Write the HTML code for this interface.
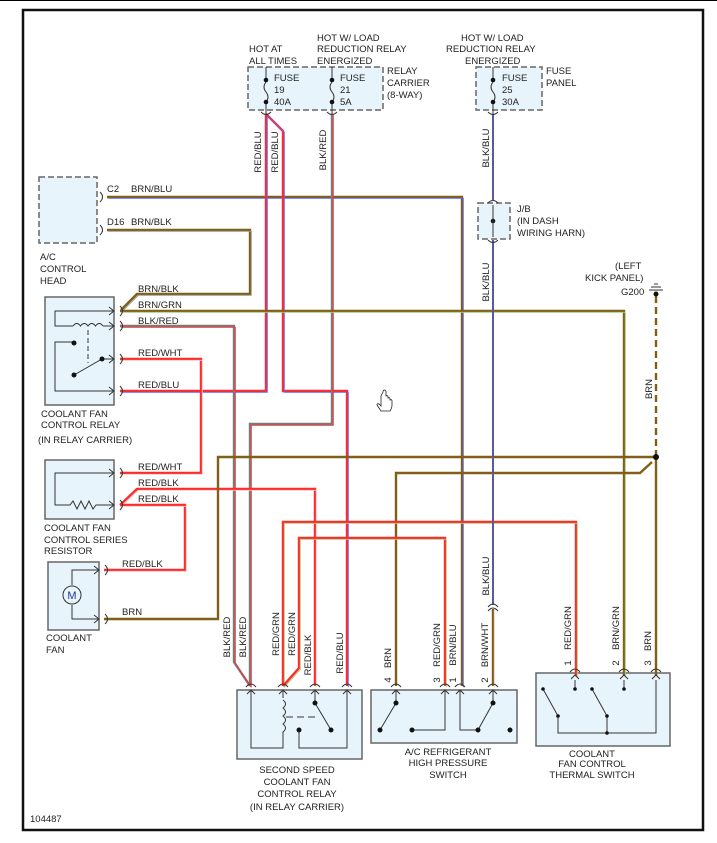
<!DOCTYPE html>
<html><head><meta charset="utf-8"><style>
html,body{margin:0;padding:0;background:#fff;}
svg{display:block;}
text{font-family:"Liberation Sans",sans-serif;font-size:9.5px;fill:#222;}
</style></head><body>
<svg id="s" width="717" height="843" viewBox="0 0 717 843" xmlns="http://www.w3.org/2000/svg">
<rect x="0" y="0" width="717" height="843" fill="#fff"/>
<line x1="0" y1="0.5" x2="717" y2="0.5" stroke="#000" stroke-width="1"/>
<rect x="23" y="10" width="680" height="820" fill="none" stroke="#111" stroke-width="2.5"/>

<g fill="#e8f4fc" stroke="#666" stroke-width="1.5">
<rect x="248" y="67" width="135" height="43" stroke-dasharray="6,3"/>
<rect x="476" y="67" width="66" height="43" stroke-dasharray="6,3"/>
<rect x="39" y="177" width="58" height="66" stroke-dasharray="6,3"/>
<rect x="478" y="203" width="32" height="36" stroke-dasharray="6,3"/>
<rect x="45" y="297" width="69" height="108"/>
<rect x="45" y="460" width="69" height="59"/>
<rect x="48" y="562" width="51" height="68"/>
<rect x="237" y="690" width="125" height="69"/>
<rect x="371" y="690" width="146" height="53"/>
<rect x="536" y="673" width="134" height="73"/>
</g>

<g id="wires"></g>

<g stroke="#333" stroke-width="1" fill="none">
<path d="M266 67 V78 M266 82 q-4 5 0 10 q4 5 0 10 M266 104 V114"/>
<path d="M332 67 V78 M332 82 q-4 5 0 10 q4 5 0 10 M332 104 V114"/>
<path d="M493 67 V78 M493 82 q-4 5 0 10 q4 5 0 10 M493 104 V114"/>
</g>
<g fill="#111">
<circle cx="266" cy="80" r="2.3"/><circle cx="266" cy="102" r="2.3"/>
<circle cx="332" cy="80" r="2.3"/><circle cx="332" cy="102" r="2.3"/>
<circle cx="493" cy="80" r="2.3"/><circle cx="493" cy="102" r="2.3"/>
<circle cx="493" cy="221" r="2.3"/>
<circle cx="656" cy="457" r="3"/>
<circle cx="656" cy="294" r="2.5"/>
</g>
<g stroke="#333" stroke-width="1"><line x1="649" y1="290" x2="663" y2="290"/><line x1="651" y1="287" x2="661" y2="287"/><line x1="654" y1="284" x2="658" y2="284"/></g>

<g stroke="#333" stroke-width="1" fill="none">
<path d="M493 205 V237"/>
<path d="M113 311 H55 V326 H73 M103 326 H113"/>
<path d="M73 326 q3.75 -5 7.5 0 q3.75 -5 7.5 0 q3.75 -5 7.5 0 q3.75 -5 7.5 0"/>
<path d="M88 330 V363" stroke-dasharray="5,3"/>
<path d="M73 342 H55 V391 H113"/>
<path d="M74 375 L102 359 H113"/>
<path d="M113 473 H55 V505 H70 l3 -4 l4 8 l4 -8 l4 8 l4 -8 l4 8 l3 -4 H113"/>
<path d="M72 585 V570 H98 M72 605 V619 H98"/>
<circle cx="72" cy="595" r="9" fill="#e8f4fc"/>
<path d="M251 690 V748 H283 V735 M283 698 V690"/>
<path d="M283 700 q5 4 0 8 q5 4 0 8 q5 4 0 8 q5 4 0 8 V735"/>
<path d="M286 717 H318" stroke-dasharray="7,4"/>
<path d="M315 690 V703 L331 730"/>
<path d="M299 730 V748 H347 V690"/>
<path d="M396 690 V703 L380 730"/>
<path d="M412 730 H445 V690"/>
<path d="M460 690 V730 H478"/>
<path d="M493 690 V703 L478 730"/>
<path d="M575 680 V689 M624 680 V689"/>
<path d="M656 680 V733 H558 V716 L543 689"/>
<path d="M607 733 V716 L592 689"/>
</g>
<g fill="#111">
<circle cx="74" cy="343" r="2.5"/><circle cx="74" cy="375" r="2.5"/><circle cx="102" cy="359" r="2.5"/>
<circle cx="315" cy="703" r="2.5"/><circle cx="331" cy="730" r="2.5"/><circle cx="299" cy="730" r="2.5"/>
<circle cx="396" cy="703" r="2.5"/><circle cx="380" cy="730" r="2.5"/><circle cx="412" cy="730" r="2.5"/>
<circle cx="493" cy="703" r="2.5"/><circle cx="478" cy="730" r="2.5"/><circle cx="510" cy="730" r="2.5"/>
<circle cx="575" cy="689" r="1.8"/><circle cx="624" cy="689" r="1.8"/><circle cx="543" cy="689" r="1.8"/><circle cx="592" cy="689" r="1.8"/>
<circle cx="558" cy="716" r="1.8"/><circle cx="607" cy="716" r="1.8"/><circle cx="607" cy="733" r="1.8"/>
</g>
<text x="72" y="599" text-anchor="middle" style="font-size:11px;fill:#1a3a8a">M</text>
<g id="pins" stroke="#333" stroke-width="1" fill="none"></g>
<!-- hand cursor -->
<path d="M381 396 v10 l-2 -2 q-2 -1 -2 1 l4 6 h9 q2 -3 2 -6 v-4 q0 -2 -2 -1 v-1 q0 -2 -2 -1 v-1 q0 -2 -2 -1 v-1 v-0 v-0 v-0 v-0 v-3 q0 -2 -1.5 -2 q-1.5 0 -1.5 2 z" fill="#fff" stroke="#222" stroke-width="0.8"/>

<g>
<text x="249" y="52">HOT AT</text><text x="249" y="64">ALL TIMES</text>
<text x="317" y="41">HOT W/ LOAD</text><text x="317" y="52">REDUCTION RELAY</text><text x="317" y="64">ENERGIZED</text>
<text x="274" y="81">FUSE</text><text x="274" y="93">19</text><text x="274" y="105">40A</text>
<text x="340" y="81">FUSE</text><text x="340" y="93">21</text><text x="340" y="105">5A</text>
<text x="387" y="74">RELAY</text><text x="387" y="86">CARRIER</text><text x="387" y="98">(8-WAY)</text>
<text x="461" y="41">HOT W/ LOAD</text><text x="446" y="52">REDUCTION RELAY</text><text x="465" y="64">ENERGIZED</text>
<text x="502" y="81">FUSE</text><text x="502" y="93">25</text><text x="502" y="105">30A</text>
<text x="546" y="74">FUSE</text><text x="546" y="86">PANEL</text>
<text x="517" y="212">J/B</text><text x="517" y="224">(IN DASH</text><text x="517" y="236">WIRING HARN)</text>
<text x="615" y="269">(LEFT</text><text x="585" y="281">KICK PANEL)</text><text x="621" y="295">G200</text>
<text x="107" y="192">C2</text><text x="131" y="192">BRN/BLU</text>
<text x="107" y="225">D16</text><text x="131" y="225">BRN/BLK</text>
<text x="40" y="260">A/C</text><text x="40" y="272">CONTROL</text><text x="40" y="284">HEAD</text>
<text x="138" y="292">BRN/BLK</text><text x="138" y="308">BRN/GRN</text><text x="138" y="324">BLK/RED</text>
<text x="138" y="356">RED/WHT</text><text x="138" y="388">RED/BLU</text>
<text x="41" y="417">COOLANT FAN</text><text x="41" y="428">CONTROL RELAY</text><text x="38" y="443">(IN RELAY CARRIER)</text>
<text x="138" y="470">RED/WHT</text><text x="138" y="486">RED/BLK</text><text x="138" y="502">RED/BLK</text>
<text x="44" y="531">COOLANT FAN</text><text x="44" y="543">CONTROL SERIES</text><text x="44" y="554">RESISTOR</text>
<text x="122" y="567">RED/BLK</text><text x="122" y="615">BRN</text>
<text x="46" y="641">COOLANT</text><text x="46" y="653">FAN</text>
<g text-anchor="middle">
<text x="297" y="773">SECOND SPEED</text><text x="297" y="785">COOLANT FAN</text><text x="297" y="797">CONTROL RELAY</text><text x="297" y="810">(IN RELAY CARRIER)</text>
<text x="448" y="755">A/C REFRIGERANT</text><text x="448" y="766">HIGH PRESSURE</text><text x="448" y="778">SWITCH</text>
<text x="592" y="757">COOLANT</text><text x="592" y="767">FAN CONTROL</text><text x="592" y="778">THERMAL SWITCH</text>
</g>
<text x="30" y="822">104487</text>
</g>
<g id="vlabels"></g>
</svg>
<script>
var NS="http://www.w3.org/2000/svg";
var C={BRN:"#806018",BLU:"#6060ff",RED:"#ff2a2a",BLK:"#7a7a7a",GRN:"#a8cc78",WHT:"#f4c8c8",GRY:"#999"};
var W=document.getElementById("wires");
function pl(pts,col,wd,dx,dash){var p=document.createElementNS(NS,"polyline");
p.setAttribute("points",pts.map(function(a){return (a[0]+dx)+","+(a[1]+dx)}).join(" "));
p.setAttribute("fill","none");p.setAttribute("stroke",col);p.setAttribute("stroke-width",wd);
if(dash)p.setAttribute("stroke-dasharray",dash);W.appendChild(p);}
function w(pts,c1,c2){pl(pts,C[c1],2.4,0);if(c2)pl(pts,C[c2],0.9,1.3);}
w([[107,197],[462,197],[462,686]],"BRN","BLU");
w([[107,230],[250,230],[250,294],[137,294],[121,310]],"BRN","GRY");
w([[266,114],[266,391],[120,391]],"RED","BLU");
w([[266,114],[283,131],[283,391],[347,391],[347,686]],"RED","BLU");
w([[332,114],[332,424],[250,424],[250,686]],"BLK","RED");
w([[120,326],[234,326],[234,662],[250,686]],"BLK","RED");
w([[120,311],[624,311],[624,676]],"BRN","GRN");
w([[120,359],[201,359],[201,473],[120,473]],"RED","WHT");
w([[120,505],[137,489],[315,489],[315,686]],"RED","WHT");
w([[120,505],[185,505],[185,570],[104,570]],"RED","WHT");
w([[104,619],[218,619],[218,457],[656,457]],"BRN");
w([[656,457],[656,676]],"BRN");
w([[652,462],[640,473],[396,473],[396,686]],"BRN");
w([[283,686],[283,522],[576,522],[576,676]],"RED","GRN");
w([[283,686],[299,668],[299,538],[445,538],[445,686]],"RED","GRN");
pl([[493,114],[493,200]],"#5a5a9a",2,0);
pl([[493,240],[493,605]],"#5a5a9a",2,0);
w([[493,609],[493,686]],"BRN","WHT");
pl([[656,296],[656,455]],C.BRN,2.4,0,"7,4");
var P=document.getElementById("pins");
function path(d){var p=document.createElementNS(NS,"path");p.setAttribute("d",d);P.appendChild(p);}
function vp(x,y){path("M"+(x-5)+" "+(y+4)+" q5 -6 10 0");path("M"+(x-4)+" "+(y+11)+" L"+x+" "+(y+7)+" L"+(x+4)+" "+(y+11));}
[251,283,315,347,396,445,460,493].forEach(function(x){vp(x,683)});
[575,624,656].forEach(function(x){vp(x,668)});
function hp(x,y){path("M"+(x+3)+" "+(y-5)+" q5 5 0 10");path("M"+(x-8)+" "+(y-4)+" L"+(x-3)+" "+y+" L"+(x-8)+" "+(y+4));}
[[117,311],[117,326],[117,359],[117,391],[117,473],[117,505],[102,570],[102,619]].forEach(function(a){hp(a[0],a[1])});
path("M100 192 q5 5 0 10");path("M100 225 q5 5 0 10");
[266,332,493].forEach(function(x){path("M"+(x-5)+" 112 q5 5 10 0")});
path("M488 203 q5 -5 10 0");path("M488 240 q5 5 10 0");
path("M488 607 q5 -6 10 0");path("M488 611 q5 -6 10 0");
var V=document.getElementById("vlabels");
function vt(t,x,yc){var e=document.createElementNS(NS,"text");e.setAttribute("x",x);e.setAttribute("y",yc);
e.setAttribute("text-anchor","middle");e.setAttribute("transform","rotate(-90 "+x+" "+yc+")");e.textContent=t;V.appendChild(e);}
vt("RED/BLU",261,152);vt("RED/BLU",278,152);vt("BLK/RED",326,150);vt("BLK/BLU",489,148);
vt("BLK/BLU",489,282);vt("BLK/BLU",489,576);vt("BRN",652,389);
vt("BLK/RED",230,637);vt("BLK/RED",246,637);vt("RED/GRN",279,634);vt("RED/GRN",295,634);
vt("RED/BLK",311,655);vt("RED/BLU",343,653);
vt("BRN",391,658);vt("RED/GRN",440,645);vt("BRN/BLU",456,645);vt("BRN/WHT",488,645);
vt("RED/GRN",571,628);vt("BRN/GRN",619,628);vt("BRN",651,641);
vt("4",391,680);vt("3",440,680);vt("1",456,680);vt("2",488,680);
vt("1",571,663);vt("2",619,663);vt("3",651,663);
</script>
</body></html>
